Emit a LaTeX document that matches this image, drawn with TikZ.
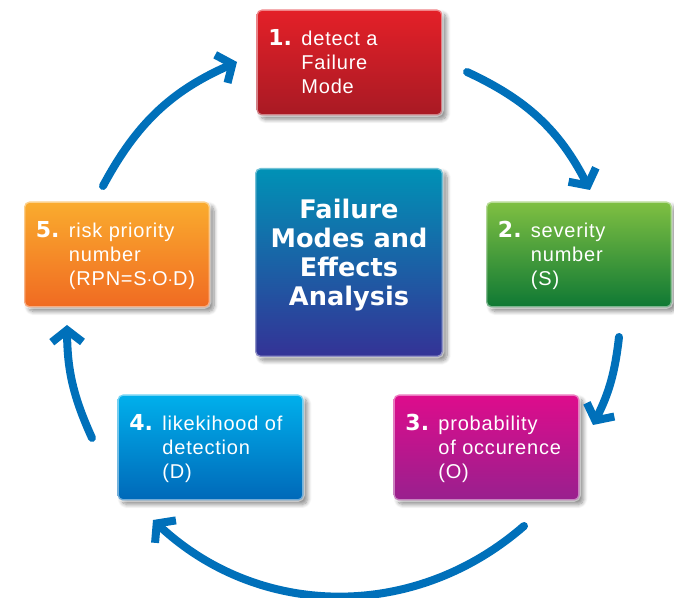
\documentclass[tikz,border=0pt]{standalone}
\usepackage{fontspec}
\setmainfont{Liberation Sans}[LetterSpace=4]
\newfontfamily\heavyfont{DejaVu Sans}
\usetikzlibrary{arrows.meta,calc,shadows.blur}

\definecolor{flowblue}{RGB}{0,112,186}
\definecolor{redtop}{RGB}{228,32,40}
\definecolor{redbot}{RGB}{168,26,36}
\definecolor{greentop}{RGB}{128,192,66}
\definecolor{greenbot}{RGB}{14,120,52}
\definecolor{magtop}{RGB}{222,12,140}
\definecolor{magbot}{RGB}{152,32,142}
\definecolor{cyantop}{RGB}{0,176,236}
\definecolor{cyanbot}{RGB}{0,104,184}
\definecolor{orangetop}{RGB}{250,172,46}
\definecolor{orangebot}{RGB}{240,106,34}
\definecolor{hubtop}{RGB}{0,146,182}
\definecolor{hubmid}{RGB}{18,92,162}
\definecolor{hubbot}{RGB}{52,50,150}

\newcommand\stepnr[1]{{\heavyfont\bfseries\fontsize{16.5}{18}\selectfont #1}}

\tikzset{
  stage/.style={rectangle, rounded corners=4pt, minimum width=139.5pt, minimum height=79.5pt,
    draw=white, draw opacity=.45, line width=2pt,
    blur shadow={shadow xshift=3pt, shadow yshift=-3pt, shadow blur steps=8,
      shadow blur radius=3pt, shadow opacity=45}},
  hub/.style={stage, minimum width=141pt, minimum height=141.75pt,
    top color=hubtop, middle color=hubmid, bottom color=hubbot},
  stagetxt/.style={anchor=base west, inner sep=0pt, text=white,
    font=\fontsize{15}{18}\selectfont},
  hubtxt/.style={anchor=base, inner sep=0pt, text=white,
    font=\heavyfont\bfseries\fontsize{19.2}{21.75}\selectfont},
  flow/.style={draw=flowblue, line width=6pt, line cap=round,
    -{Straight Barb[length=9pt, width=23pt]}}
}

\begin{document}
\begin{tikzpicture}[x=0.75pt, y=0.75pt]
  \useasboundingbox (0,0) rectangle (674,598);

  % the five steps and the centre
  \node[stage, top color=redtop, bottom color=redbot] (b1) at (349.5,535.5) {};
  \node[stage, top color=greentop, bottom color=greenbot] (b2) at (579,343.5) {};
  \node[stage, top color=magtop, bottom color=magbot] (b3) at (486.5,150.5) {};
  \node[stage, top color=cyantop, bottom color=cyanbot] (b4) at (210.5,150.5) {};
  \node[stage, top color=orangetop, bottom color=orangebot] (b5) at (117,343.5) {};
  \node[hub] (fmea) at (349,335.5) {};

  \node[stagetxt] (t1) at ($(b1.north west)+(13,-37)$)
    {\begin{tabular}[t]{@{}p{24.75pt}@{}l@{}}\stepnr{1.} & detect a\\ & Failure\\ & Mode\end{tabular}};
  \node[stagetxt] (t2) at ($(b2.north west)+(13,-37)$)
    {\begin{tabular}[t]{@{}p{24.75pt}@{}l@{}}\stepnr{2.} & severity\\ & number\\ & (S)\end{tabular}};
  \node[stagetxt] (t3) at ($(b3.north west)+(13,-37)$)
    {\begin{tabular}[t]{@{}p{24.75pt}@{}l@{}}\stepnr{3.} & probability\\ & of occurence\\ & (O)\end{tabular}};
  \node[stagetxt] (t4) at ($(b4.north west)+(13,-37)$)
    {\begin{tabular}[t]{@{}p{24.75pt}@{}l@{}}\stepnr{4.} & likekihood of\\ & detection\\ & (D)\end{tabular}};
  \node[stagetxt] (t5) at ($(b5.north west)+(13,-37)$)
    {\begin{tabular}[t]{@{}p{24.75pt}@{}l@{}}\stepnr{5.} & risk priority\\ & number\\ & (RPN=S$\cdot$O$\cdot$D)\end{tabular}};
  \node[hubtxt] (title) at ($(fmea.north)+(0,-52)$)
    {\begin{tabular}[t]{@{}c@{}}Failure\\Modes and\\Effects\\Analysis\end{tabular}};

  % ends of the cycle arrows
  \coordinate (from5) at (103,412);
  \coordinate (to1) at (237,536);
  \coordinate (from1) at (467,526);
  \coordinate (to2) at (590,408);
  \coordinate (from2) at (619,261);
  \coordinate (to3) at (593,173);
  \coordinate (from3) at (524,72);
  \coordinate (to4) at (153,78);
  \coordinate (from4) at (92,160);
  \coordinate (to5) at (67,273);

  \draw[flow] (from5) to[bend left=19] (to1);
  \draw[flow] (from1) to[bend left=19] (to2);
  \draw[flow] (from2) to[bend left=10] (to3);
  \draw[flow] (from3) to[bend left=42] (to4);
  \draw[flow] (from4) to[bend left=12] (to5);
\end{tikzpicture}
\end{document}
